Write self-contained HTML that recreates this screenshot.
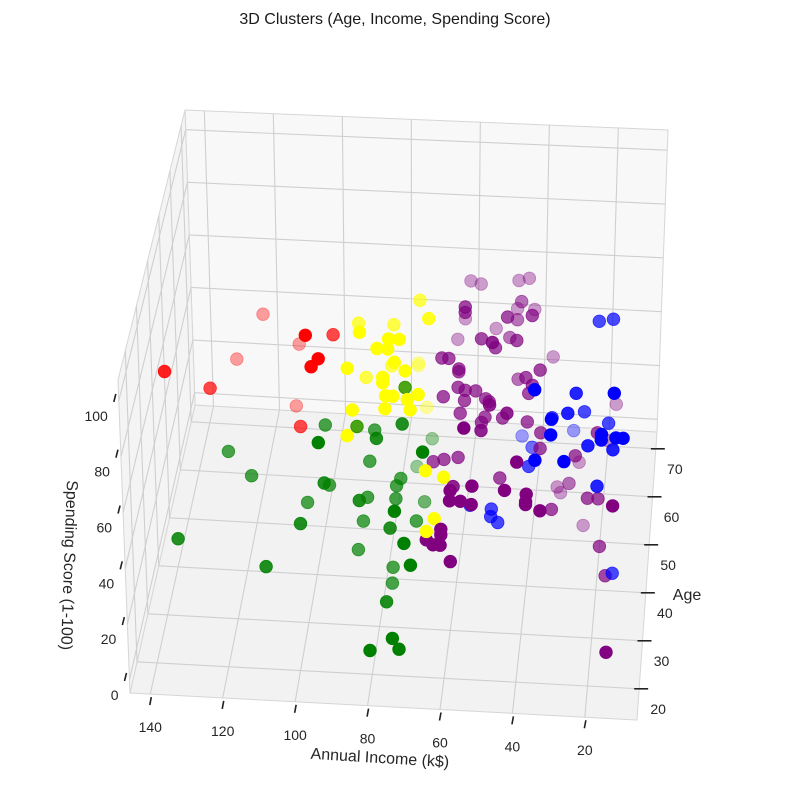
<!DOCTYPE html>
<html><head><meta charset="utf-8">
<style>
html,body{margin:0;padding:0;background:#fff;}
svg{display:block;font-family:"Liberation Sans",sans-serif;}
</style></head>
<body>
<svg id="chart" width="790" height="812" viewBox="0 0 790 812" xmlns="http://www.w3.org/2000/svg">
<text x="395" y="24" text-anchor="middle" font-size="16" fill="#1a1a1a">3D Clusters (Age, Income, Spending Score)</text>
<g id="panes"></g>
<g id="grid"></g>
<g id="ticks"></g>
<g id="points"></g>
<text x="380" y="763" text-anchor="middle" font-size="16" fill="#262626" transform="rotate(3.5 380 757)">Annual Income (k$)</text>
<text x="64" y="565" text-anchor="middle" font-size="16" fill="#262626" transform="rotate(92 64 565)">Spending Score (1-100)</text>
<text x="687" y="600" text-anchor="middle" font-size="16" fill="#262626">Age</text>
</svg>
<script>
const clusterNames = ['red','yellow','green','purple','blue'];
const clusterColors = ['#ff0000','#ffff00','#008000','#800080','#0000ff'];

const incomeRed = [121,102,110,97,128,98,100,142,131,110,105];
const ageRed    = [63,38,61,49,60,36,36,40,45,57,43];
const scoreRed  = [50,86,43,68,38,81,78,67,53,27,44];

const incomeYellow = [73,69,90,87,80,82,79,76,79,77,80,75,75,90,87,74,80,80,76,79,77,73,70,72,79,72,88,89,89,67,62,64,66];
const ageYellow    = [52,44,50,38,50,37,38,38,37,36,47,60,60,36,46,36,35,35,46,34,34,34,34,57,33,33,33,43,31,29,29,26,25];
const scoreYellow  = [77,84,71,88,71,84,86,86,84,81,61,40,39,78,58,78,77,75,55,72,72,71,73,29,69,69,68,45,62,54,52,42,39];

const incomeGreen = [98,89,84,82,75,97,125,70,68,74,85,76,118,96,96,76,77,85,102,86,77,70,75,102,86,71,77,136,72,87,111,70,77,77,77,74,72,80];
const ageGreen    = [43,43,43,36,37,31,41,55,30,53,41,46,39,33,39,40,39,38,38,32,38,44,26,30,37,37,30,29,24,35,27,23,34,33,25,18,17,17];
const scoreGreen  = [45,45,44,53,57,59,37,21,59,14,36,55,32,41,30,32,31,28,25,37,28,17,44,31,21,22,31,25,36,14,20,30,10,6,13,12,10,9];

const incomePurple = [61,58,47,44,45,47,42,41,60,60,62,48,46,53,64,55,48,45,51,51,36,66,64,61,61,38,45,42,40,65,61,59,56,53,59,52,51,41,17,60,53,46,48,41,54,57,53,37,21,37,19,60,64,67,42,27,27,48,60,60,54,45,60,57,54,39,39,39,35,33,33,29,32,23,20,15,25,62,62,66,64,62,59,19,17,15];
const agePurple    = [66,66,66,66,58,64,64,51,51,51,63,51,57,63,62,49,56,49,43,49,61,48,48,47,47,47,53,47,46,45,46,46,46,45,45,45,39,46,58,44,44,38,44,44,44,32,37,43,43,42,56,41,41,41,30,42,54,40,33,28,28,28,27,27,27,28,27,27,27,38,52,46,52,39,39,27,50,25,25,25,24,24,23,36,34,18];
const scorePurple  = [61,60,62,63,68,55,55,75,77,75,52,74,63,49,46,69,58,69,78,66,43,63,63,61,60,62,48,59,58,54,56,55,55,54,53,53,62,55,32,50,49,61,49,48,47,65,56,46,47,42,22,39,38,37,57,40,17,34,42,49,51,50,47,47,46,49,48,47,45,27,11,23,9,30,30,48,1,40,38,36,36,36,32,18,11,11];

const incomeBlue = [22,18,38,27,16,34,29,25,29,18,33,44,40,33,23,19,19,15,13,16,37,29,40,20,56,50,50,48,15];
const ageBlue    = [51,51,35,40,35,44,38,45,56,44,33,56,48,32,36,32,32,32,32,36,30,30,41,34,38,38,37,37,34];
const scoreBlue  = [74,75,75,66,75,50,62,51,25,49,68,22,32,64,54,65,63,64,64,53,58,58,37,43,27,26,25,23,12];

const incomeTicks = [20,40,60,80,100,120,140];
const ageTicks = [20,30,40,50,60,70];
const scoreTicks = [0,20,40,60,80,100];

const INC_MAX = 145.6, INC_SPAN = 140;
const AGE_MIN = 13.5, AGE_SPAN = 60;
const SC_MIN = -4.7, SC_SPAN = 112.2;
function U(inc){return (INC_MAX-inc)/INC_SPAN;}
function V(age){return (age-AGE_MIN)/AGE_SPAN;}
function W(s){return (s-SC_MIN)/SC_SPAN;}

const C = {
 '000':[130,693],'100':[637,720],'010':[195,405],'110':[657,432],
 '001':[118,380],'101':[648,402],'011':[185,110],'111':[668,130]
};
function lerp(a,b,t){return [a[0]+(b[0]-a[0])*t,a[1]+(b[1]-a[1])*t];}
function proj(u,v,w){
  const b0=lerp(lerp(C['000'],C['100'],u),lerp(C['010'],C['110'],u),v);
  const b1=lerp(lerp(C['001'],C['101'],u),lerp(C['011'],C['111'],u),v);
  return lerp(b0,b1,w);
}
const NS='http://www.w3.org/2000/svg';
function mk(tag,attrs,parent){const e=document.createElementNS(NS,tag);for(const k in attrs)e.setAttribute(k,attrs[k]);parent.appendChild(e);return e;}
function pts(list){return list.map(p=>p[0].toFixed(1)+','+p[1].toFixed(1)).join(' ');}

const panes=document.getElementById('panes');
let pn;
pn=mk('polygon',{points:pts([proj(0,0,0),proj(1,0,0),proj(1,1,0),proj(0,1,0)]),fill:'#f2f2f2',stroke:'#d6d6d6','stroke-width':1},panes);


pn=mk('polygon',{points:pts([proj(0,1,0),proj(1,1,0),proj(1,1,1),proj(0,1,1)]),fill:'#f8f8f8',stroke:'#d6d6d6','stroke-width':1},panes);


pn=mk('polygon',{points:pts([proj(0,0,0),proj(0,1,0),proj(0,1,1),proj(0,0,1)]),fill:'#f4f4f4',stroke:'#d6d6d6','stroke-width':1},panes);



const grid=document.getElementById('grid');
function gl(a,b,name){
  const l=mk('line',{x1:a[0],y1:a[1],x2:b[0],y2:b[1],stroke:'#cfcfcf','stroke-width':1.1},grid);
  
  
}
incomeTicks.forEach(t=>{const u=U(t);gl(proj(u,0,0),proj(u,1,0),'income-grid-floor');gl(proj(u,1,0),proj(u,1,1),'income-grid-wall');});
ageTicks.forEach(t=>{const v=V(t);gl(proj(0,v,0),proj(1,v,0),'age-grid-floor');gl(proj(0,v,0),proj(0,v,1),'age-grid-wall');});
scoreTicks.forEach(t=>{const w=W(t);gl(proj(0,1,w),proj(1,1,w),'score-grid-back');gl(proj(0,0,w),proj(0,1,w),'score-grid-side');});

const ticks=document.getElementById('ticks');
function tk(a,b,name){
  const l=mk('line',{x1:a[0],y1:a[1],x2:b[0],y2:b[1],stroke:'#222','stroke-width':1.6},ticks);
  
  
}
function lbl(x,y,txt,anchor,name){
  const t=mk('text',{x:x,y:y,'text-anchor':anchor,'font-size':14,fill:'#262626'},ticks);
  t.textContent=txt;
  
  
}
incomeTicks.forEach(t=>{const p=proj(U(t),0,0);tk([p[0]+1,p[1]+3],[p[0]-0.5,p[1]+11],'income-tick');lbl(p[0],p[1]+38,String(t),'middle','income-tick-label');});
ageTicks.forEach(t=>{const p=proj(1,V(t),0);tk([p[0]-5,p[1]],[p[0]+9,p[1]],'age-tick');lbl(p[0]+19,p[1]+25,String(t),'middle','age-tick-label');});
scoreTicks.forEach(t=>{const p=proj(0,0,W(t));tk([p[0]-3,p[1]-7],[p[0]-5,p[1]+1],'score-tick');lbl(p[0]-11,p[1]+20,String(t),'end','score-tick-label');});

const groups=[[incomeRed,ageRed,scoreRed],[incomeYellow,ageYellow,scoreYellow],[incomeGreen,ageGreen,scoreGreen],[incomePurple,agePurple,scorePurple],[incomeBlue,ageBlue,scoreBlue]];
const all=[];
groups.forEach((g,ci)=>{for(let i=0;i<g[0].length;i++){const u=U(g[0][i]),v=V(g[1][i]),w=W(g[2][i]);all.push({ci,u,v,w,d:v-0.5*w});}});
all.sort((a,b)=>b.d-a.d);
const pg=document.getElementById('points');
all.forEach(p=>{
  const s=proj(p.u,p.v,p.w);
  const t=Math.max(0,Math.min(1,p.d/0.6));
  const a=1-0.65*t;
  const c=mk('circle',{cx:s[0].toFixed(1),cy:s[1].toFixed(1),r:6.3,fill:clusterColors[p.ci],'fill-opacity':a.toFixed(2),stroke:clusterColors[p.ci],'stroke-opacity':a.toFixed(2),'stroke-width':0.8},pg);
  
  
});
</script>
</body></html>
